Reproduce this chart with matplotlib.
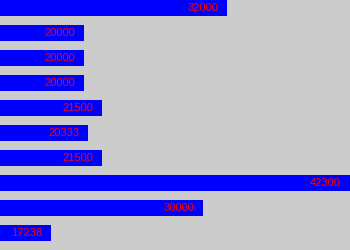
import matplotlib
matplotlib.use("Agg")
import matplotlib.pyplot as plt

# valori delle barre (dall'alto verso il basso)
values = [32000, 20000, 20000, 20000, 21500, 20333, 21500, 42300, 30000, 17238]
labels = [str(v) for v in values]

fig = plt.figure(figsize=(3.5, 2.5), dpi=100)
fig.patch.set_facecolor("#cccccc")
ax = fig.add_axes([0, 0, 1, 1])
ax.set_facecolor("#cccccc")

pos = list(range(len(values)))
ax.barh(pos, values, height=0.64, color="#0000ff", left=0)

for p, v, lab in zip(pos, values, labels):
    ax.annotate(lab, xy=(v, p), xytext=(-9, 0), textcoords="offset pixels",
                ha="right", va="center", color="#ff0000",
                fontsize=8, family="Liberation Sans")

ax.set_xlim(min(values) * 0.75, max(values))
ax.set_ylim(len(values) - 0.32, -0.32)
ax.axis("off")

fig.savefig("out.png", dpi=100, facecolor=fig.get_facecolor())
